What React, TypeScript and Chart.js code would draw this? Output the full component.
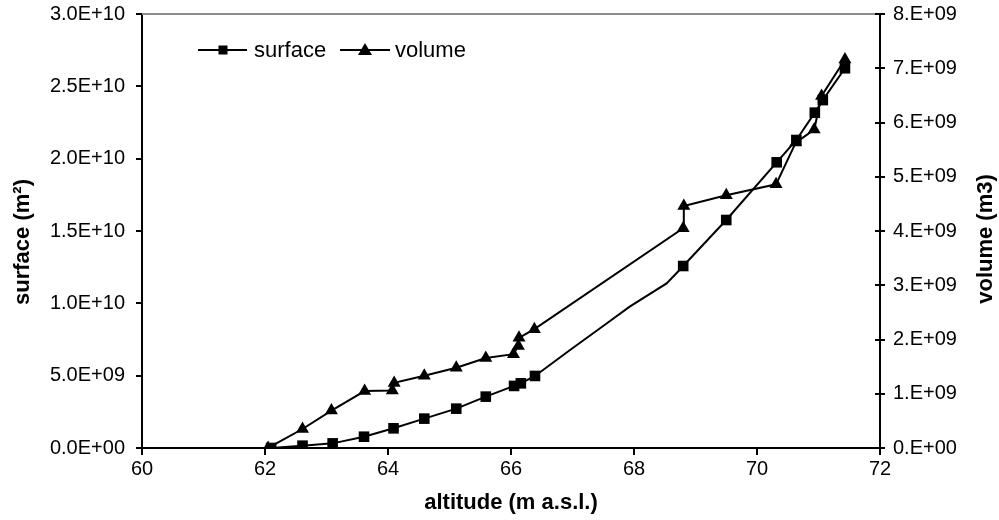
import { useEffect, useRef } from 'react';
import { Chart, registerables } from 'chart.js';

Chart.register(...registerables);

const FONT = "'Liberation Sans', Arial, Helvetica, sans-serif";

// surface (m²) vs altitude; unmarked entries are line vertices without a marker
const surfaceAltitude = [62.1, 62.61, 63.1, 63.61, 64.09, 64.59, 65.11, 65.59, 66.05, 66.16, 66.39, 66.96, 67.56, 67.93, 68.53, 68.69, 68.8, 69.5, 70.32, 70.64, 70.94, 71.07, 71.43];
const surfaceValues = [0, 0.16e9, 0.32e9, 0.78e9, 1.36e9, 2.03e9, 2.72e9, 3.55e9, 4.29e9, 4.47e9, 4.98e9, 6.77e9, 8.62e9, 9.77e9, 11.38e9, 12.08e9, 12.58e9, 15.76e9, 19.75e9, 21.29e9, 23.18e9, 24.05e9, 26.25e9];
const surfaceMarked = [1, 1, 1, 1, 1, 1, 1, 1, 1, 1, 1, 0, 0, 0, 0, 0, 1, 1, 1, 1, 1, 1, 1];

// volume (m3) vs altitude
const volumeAltitude = [62.05, 62.61, 63.08, 63.62, 64.07, 64.1, 64.59, 65.11, 65.59, 66.04, 66.12, 66.13, 66.38, 68.8, 68.81, 69.5, 70.31, 70.63, 70.93, 71.05, 71.43];
const volumeValues = [0, 0.35e9, 0.69e9, 1.05e9, 1.06e9, 1.2e9, 1.33e9, 1.48e9, 1.66e9, 1.73e9, 1.88e9, 2.03e9, 2.19e9, 4.05e9, 4.46e9, 4.66e9, 4.86e9, 5.63e9, 5.87e9, 6.49e9, 7.16e9];

const xTicks = [60, 62, 64, 66, 68, 70, 72];
const leftTicks = [0, 5e9, 1e10, 1.5e10, 2e10, 2.5e10, 3e10];
const leftTickLabels = ['0.0E+00', '5.0E+09', '1.0E+10', '1.5E+10', '2.0E+10', '2.5E+10', '3.0E+10'];
const rightTicks = [0, 1e9, 2e9, 3e9, 4e9, 5e9, 6e9, 7e9, 8e9];
const rightTickLabels = ['0.E+00', '1.E+09', '2.E+09', '3.E+09', '4.E+09', '5.E+09', '6.E+09', '7.E+09', '8.E+09'];

const seriesNames = ['surface', 'volume'];
const xTitle = 'altitude (m a.s.l.)';
const leftTitle = 'surface (m²)';
const rightTitle = 'volume (m3)';

const decorPlugin = {
  id: 'decor',
  afterDraw(chart: any) {
    const { ctx, chartArea } = chart;
    const { left, right, top } = chartArea;
    ctx.save();
    // grey top border
    ctx.strokeStyle = '#8c8c8c';
    ctx.lineWidth = 2;
    ctx.beginPath();
    ctx.moveTo(left, top);
    ctx.lineTo(right, top);
    ctx.stroke();
    // inward half of right ticks
    ctx.strokeStyle = '#000';
    ctx.lineWidth = 2;
    const y1 = chart.scales.y1;
    y1.ticks.forEach((t: any) => {
      const py = Math.round(y1.getPixelForValue(t.value));
      ctx.beginPath();
      ctx.moveTo(right - 5, py);
      ctx.lineTo(right, py);
      ctx.stroke();
    });
    // y titles (both read bottom to top)
    ctx.fillStyle = '#000';
    ctx.font = `bold 22px ${FONT}`;
    ctx.textAlign = 'center';
    ctx.textBaseline = 'middle';
    ctx.save();
    ctx.translate(23, 242);
    ctx.rotate(-Math.PI / 2);
    ctx.fillText(leftTitle, 0, 0);
    ctx.restore();
    ctx.save();
    ctx.translate(986, 239);
    ctx.rotate(-Math.PI / 2);
    ctx.fillText(rightTitle, 0, 0);
    ctx.restore();
    // legend
    const ly = 50;
    ctx.lineWidth = 2;
    ctx.strokeStyle = '#000';
    ctx.fillStyle = '#000';
    ctx.beginPath();
    ctx.moveTo(198, ly);
    ctx.lineTo(247, ly);
    ctx.stroke();
    ctx.fillRect(223 - 4.5, ly - 4.5, 9, 9);
    ctx.beginPath();
    ctx.moveTo(340, ly);
    ctx.lineTo(390, ly);
    ctx.stroke();
    ctx.beginPath();
    ctx.moveTo(365, ly - 7);
    ctx.lineTo(365 + 7, ly + 5);
    ctx.lineTo(365 - 7, ly + 5);
    ctx.closePath();
    ctx.fill();
    ctx.font = `22px ${FONT}`;
    ctx.textAlign = 'left';
    ctx.fillText(chart.data.datasets[0].label, 254, ly + 1);
    ctx.fillText(chart.data.datasets[1].label, 395, ly + 1);
    ctx.restore();
  },
};

export default function App() {
  const ref = useRef<HTMLCanvasElement | null>(null);
  useEffect(() => {
    if (!ref.current) return;
    const chart = new Chart(ref.current, {
      type: 'scatter',
      data: {
        datasets: [
          {
            label: seriesNames[0],
            data: surfaceAltitude.map((x, i) => ({ x, y: surfaceValues[i] })),
            yAxisID: 'y',
            showLine: true,
            borderColor: '#000',
            backgroundColor: '#000',
            borderWidth: 2,
            pointStyle: 'rect',
            pointRadius: surfaceMarked.map((m) => (m ? 7.5 : 0)),
            pointBorderWidth: 0,
            tension: 0,
          },
          {
            label: seriesNames[1],
            data: volumeAltitude.map((x, i) => ({ x, y: volumeValues[i] })),
            yAxisID: 'y1',
            showLine: true,
            borderColor: '#000',
            backgroundColor: '#000',
            borderWidth: 2,
            pointStyle: 'triangle',
            pointRadius: 7.5,
            pointBorderWidth: 0,
            tension: 0,
          },
        ],
      },
      options: {
        animation: false,
        responsive: false,
        devicePixelRatio: 1,
        events: [],
        layout: { padding: { top: 14, left: 0, right: 0, bottom: 0 } },
        plugins: { legend: { display: false }, tooltip: { enabled: false } },
        scales: {
          x: {
            type: 'linear',
            position: 'bottom',
            min: 60,
            max: 72,
            afterBuildTicks: (s: any) => {
              s.ticks = xTicks.map((v) => ({ value: v }));
            },
            afterFit: (s: any) => {
              s.height = 72;
              s.paddingLeft = 0;
              s.paddingRight = 0;
            },
            ticks: { color: '#000', font: { size: 20, family: FONT }, padding: 2, maxRotation: 0, callback: (v: any) => String(v) },
            grid: { drawOnChartArea: false, tickLength: 7, color: '#000', lineWidth: 2 },
            border: { color: '#000', width: 2 },
            title: { display: true, text: xTitle, color: '#000', font: { size: 22, weight: 'bold', family: FONT }, padding: { top: 0, bottom: 4 } },
          },
          y: {
            type: 'linear',
            position: 'left',
            min: 0,
            max: 3e10,
            afterBuildTicks: (s: any) => {
              s.ticks = leftTicks.map((v) => ({ value: v }));
            },
            afterFit: (s: any) => {
              s.width = 142;
              s.paddingTop = 0;
              s.paddingBottom = 0;
            },
            ticks: {
              color: '#000',
              font: { size: 20, family: FONT },
              padding: 11,
              callback: (_v: any, i: number) => leftTickLabels[i],
            },
            grid: { drawOnChartArea: false, tickLength: 6, color: '#000', lineWidth: 2 },
            border: { color: '#000', width: 2 },
          },
          y1: {
            type: 'linear',
            position: 'right',
            min: 0,
            max: 8e9,
            afterBuildTicks: (s: any) => {
              s.ticks = rightTicks.map((v) => ({ value: v }));
            },
            afterFit: (s: any) => {
              s.width = 119;
              s.paddingTop = 0;
              s.paddingBottom = 0;
            },
            ticks: {
              color: '#000',
              font: { size: 20, family: FONT },
              padding: 8,
              callback: (_v: any, i: number) => rightTickLabels[i],
            },
            grid: { drawOnChartArea: false, tickLength: 5, color: '#000', lineWidth: 2 },
            border: { color: '#000', width: 2 },
          },
        },
      },
      plugins: [decorPlugin],
    } as any);
    return () => chart.destroy();
  }, []);
  return (
    <div style={{ position: 'absolute', left: 0, top: 0, width: 999, height: 520, background: '#fff' }}>
      <canvas ref={ref} width={999} height={520} style={{ display: 'block' }} />
    </div>
  );
}
